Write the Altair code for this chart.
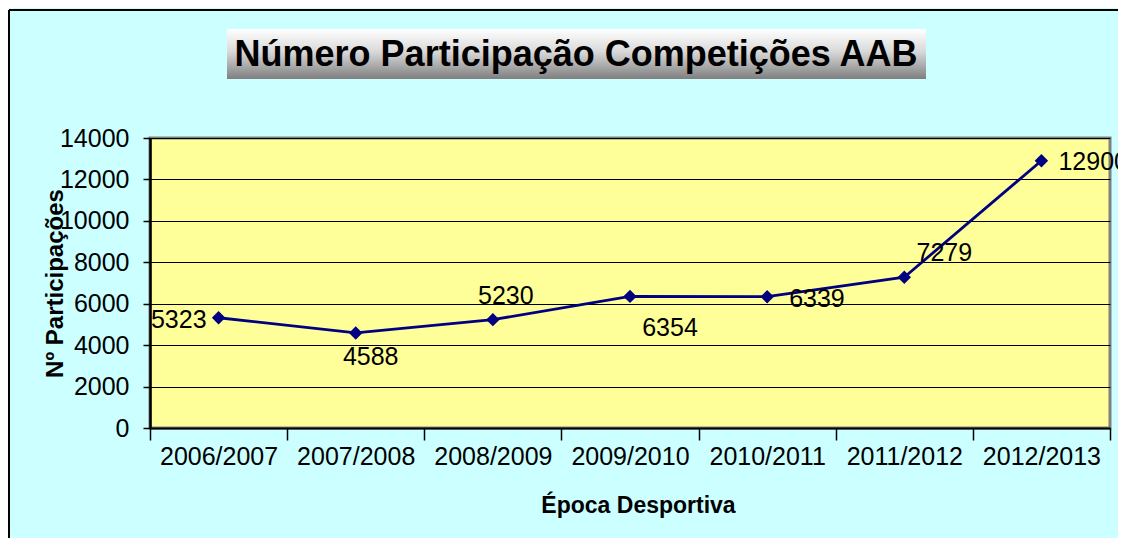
import altair as alt
import pandas as pd

epocas = ["2006/2007", "2007/2008", "2008/2009", "2009/2010", "2010/2011", "2011/2012", "2012/2013"]
participacoes = [5323, 4588, 5230, 6354, 6339, 7279, 12900]
y_ticks = [0, 2000, 4000, 6000, 8000, 10000, 12000, 14000]

df = pd.DataFrame({"epoca": epocas, "valor": participacoes})

FONT = "Liberation Sans"
NAVY = "#000080"

x_enc = alt.X("epoca:N", sort=epocas,
              scale=alt.Scale(type="band", paddingInner=0, paddingOuter=0),
              axis=alt.Axis(title="Época Desportiva", labelAngle=0, tickBand="extent",
                            tickSize=12, tickColor="black", tickWidth=1.5,
                            domainColor="black", domainWidth=2,
                            labelFont=FONT, labelFontSize=25, labelColor="black",
                            labelPadding=4,
                            titleFont=FONT, titleFontSize=23, titleFontWeight="bold",
                            titleColor="black", titleY=77, titleBaseline="middle",
                            titleX=488))
y_enc = alt.Y("valor:Q", scale=alt.Scale(domain=[0, 14000], nice=False),
              axis=alt.Axis(title="Nº Participações", values=y_ticks, format="d", grid=True,
                            gridColor="black", gridWidth=1.2,
                            tickSize=7, tickColor="black", tickWidth=1.5,
                            domainColor="black", domainWidth=2.5,
                            labelFont=FONT, labelFontSize=25, labelColor="black",
                            labelPadding=14,
                            titleFont=FONT, titleFontSize=24, titleFontWeight="bold",
                            titleColor="black", titleAngle=-90, titleX=-95, titleY=145,
                            titleBaseline="middle", titleAlign="center"))

base = alt.Chart(df)

line = base.mark_line(color=NAVY, strokeWidth=2.8).encode(x=x_enc, y=y_enc)
pts = base.mark_point(shape="diamond", filled=True, color=NAVY, size=180, opacity=1).encode(
    x=alt.X("epoca:N", sort=epocas), y="valor:Q")


def labels(cats, align, dx, dy):
    return base.transform_filter(
        alt.FieldOneOfPredicate(field="epoca", oneOf=cats)
    ).mark_text(font=FONT, fontSize=25, color="black", align=align, baseline="middle",
                dx=dx, dy=dy).encode(
        x=alt.X("epoca:N", sort=epocas), y="valor:Q", text="valor:Q")


lab = [
    labels(["2006/2007"], "right", -12, 2),
    labels(["2007/2008"], "center", 15, 24),
    labels(["2008/2009"], "center", 13, -24),
    labels(["2009/2010"], "center", 40, 32),
    labels(["2010/2011"], "left", 22, 2),
    labels(["2011/2012"], "center", 40, -24),
    labels(["2012/2013"], "left", 17, 1),
]

title_box = alt.Chart(df.head(1)).mark_rect(
    fill=alt.Gradient(gradient="linear", x1=0, y1=0, x2=0, y2=1,
                      stops=[alt.GradientStop(color="#ffffff", offset=0),
                             alt.GradientStop(color="#d9d9d9", offset=0.45),
                             alt.GradientStop(color="#7f7f7f", offset=1)]),
).encode(x=alt.value(77), x2=alt.value(776), y=alt.value(-109), y2=alt.value(-59))

title_text = alt.Chart(df.head(1)).mark_text(
    text="Número Participação Competições AAB", font=FONT, fontSize=36,
    fontWeight="bold", color="black", align="center", baseline="middle"
).encode(x=alt.value(426), y=alt.value(-83))

border_top = alt.Chart(df.head(1)).mark_rule(color="black", strokeWidth=2).encode(
    x=alt.value(-141), x2=alt.value(980), y=alt.value(-128))
border_left = alt.Chart(df.head(1)).mark_rule(color="black", strokeWidth=2).encode(
    x=alt.value(-141), y=alt.value(-128), y2=alt.value(420))

chart = alt.layer(line, pts, *lab, title_box, title_text, border_top, border_left).properties(
    width=960, height=290,
    autosize=alt.AutoSizeParams(type="none"),
    padding={"left": 142, "top": 130, "right": 8, "bottom": 110},
    background="#CCFFFF",
).configure_view(fill="#FFFF99", stroke="#808080", strokeWidth=3)

chart.save("out.html", embed_options={"renderer": "svg", "actions": False})
